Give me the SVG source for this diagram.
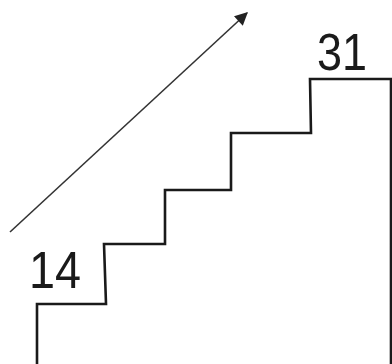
<svg xmlns="http://www.w3.org/2000/svg" width="392" height="364" viewBox="0 0 392 364">
<style>
.stair{fill:none;stroke:#1a1a1a;stroke-width:2.6;stroke-linejoin:miter}
.arrow{fill:none;stroke:#333;stroke-width:1.6}
.lbl{font-family:"Liberation Sans",Arial,sans-serif;font-size:52px;fill:#1a1a1a}
</style>
<defs>
<marker id="ah" viewBox="0 0 10 10" refX="9" refY="5" markerWidth="14" markerHeight="13" markerUnits="userSpaceOnUse" orient="auto">
<path d="M0,0 L10,5 L0,10 z" fill="#222"/>
</marker>
</defs>
<rect width="392" height="364" fill="#fff"/>
<g id="stairs">
<path class="stair" d="M37,364 L37,304 L106,304 L104,244 L165,244 L165,190 L231,190 L231,133 L311,133 L310,79 L391,79 L391,364"/>
</g>
<g id="connectors">
<line class="arrow" x1="10" y1="232" x2="247" y2="13" marker-end="url(#ah)"/>
</g>
<g id="label-14">
<text class="lbl" x="29" y="288" textLength="52" lengthAdjust="spacingAndGlyphs">14</text>
</g>
<g id="label-31">
<text class="lbl" x="317" y="70" textLength="50" lengthAdjust="spacingAndGlyphs">31</text>
</g>
</svg>
